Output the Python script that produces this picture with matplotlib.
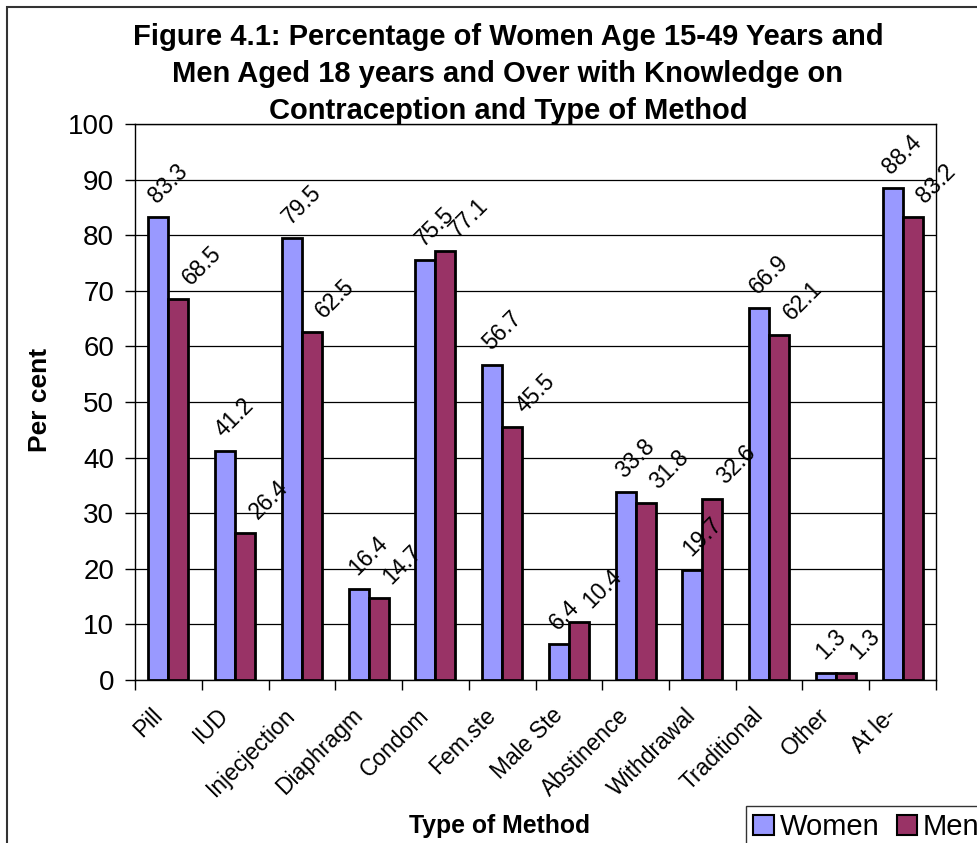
import matplotlib
matplotlib.use("Agg")
import matplotlib.pyplot as plt
import matplotlib.patches as mpatches
import numpy as np

plt.rcParams['font.family'] = ['Liberation Sans', 'DejaVu Sans']

methods = ['Pill', 'IUD', 'Injecjection', 'Diaphragm', 'Condom', 'Fem.ste',
           'Male Ste', 'Abstinence', 'Withdrawal', 'Traditional', 'Other', 'At le-']
women = [83.3, 41.2, 79.5, 16.4, 75.5, 56.7, 6.4, 33.8, 19.7, 66.9, 1.3, 88.4]
men = [68.5, 26.4, 62.5, 14.7, 77.1, 45.5, 10.4, 31.8, 32.6, 62.1, 1.3, 83.2]
yticks = [0, 10, 20, 30, 40, 50, 60, 70, 80, 90, 100]

title = ('Figure 4.1: Percentage of Women Age 15-49 Years and\n'
         'Men Aged 18 years and Over with Knowledge on\n'
         'Contraception and Type of Method')

W, H = 978, 843
fig = plt.figure(figsize=(W / 100, H / 100), dpi=100)
ax = fig.add_axes([135 / W, 1 - 680 / H, (936 - 135) / W, (680 - 124) / H])

# outer chart frame (cropped on the right and bottom)
fig.patches.append(mpatches.Rectangle((7 / W, -0.2), 2, 1.2 - 7 / H, transform=fig.transFigure,
                                      fill=False, edgecolor='#333333', lw=1.5))

x = np.arange(len(methods))
bw = 0.3
ax.bar(x - bw / 2, women, bw, color='#9999FF', edgecolor='black', lw=2, label='Women', zorder=3)
ax.bar(x + bw / 2, men, bw, color='#993366', edgecolor='black', lw=2, label='Men', zorder=3)

# value labels, rotated like the Excel original
for xs, vals, off in ((x - bw / 2, women, (1.5, 7)), (x + bw / 2, men, (11.5, 7))):
    for a, b in zip(xs, vals):
        ax.annotate('%.1f' % b, (a, b), xytext=off, textcoords='offset points',
                    rotation=45, rotation_mode='anchor', ha='left', va='bottom',
                    fontsize=16.5, zorder=4)

ax.set_xlim(-0.5, len(methods) - 0.5)
ax.set_ylim(0, 100)
ax.set_yticks(yticks)
ax.tick_params(axis='y', labelsize=20, length=7, width=1, direction='out', pad=8)
ax.yaxis.grid(True, color='black', lw=0.9, zorder=0)
ax.set_axisbelow(True)

ax.set_xticks(np.arange(len(methods) + 1) - 0.5)
ax.set_xticklabels([])
ax.tick_params(axis='x', length=7, width=1, direction='out')
for i, m in enumerate(methods):
    ax.annotate(m, (i, 0), xytext=(-7, -23), textcoords='offset points',
                rotation=45, rotation_mode='anchor', ha='right', va='center',
                fontsize=16.5, annotation_clip=False)

for s in ax.spines.values():
    s.set_linewidth(1)
    s.set_color('black')

fig.text(508 / W, 1 - 74 / H, title, ha='center', va='center', fontsize=21,
         fontweight='bold', linespacing=1.4)
fig.text(40 / W, 1 - 400 / H, 'Per cent', rotation=90, ha='center', va='center',
         fontsize=19, fontweight='bold')
fig.text(500 / W, 1 - 826 / H, 'Type of Method', ha='center', va='center',
         fontsize=17.8, fontweight='bold')

leg = fig.legend(loc='upper left', bbox_to_anchor=(746 / W, 1 - 806 / H), ncol=2,
                 fontsize=21, frameon=True, fancybox=False, handlelength=0.7,
                 handleheight=0.7, handletextpad=0.2, columnspacing=0.6,
                 borderpad=0.25, borderaxespad=0)
leg.get_frame().set_edgecolor('black')
leg.get_frame().set_linewidth(1)
for p in leg.get_patches():
    p.set_linewidth(1.5)

fig.savefig('out.png', dpi=100)
